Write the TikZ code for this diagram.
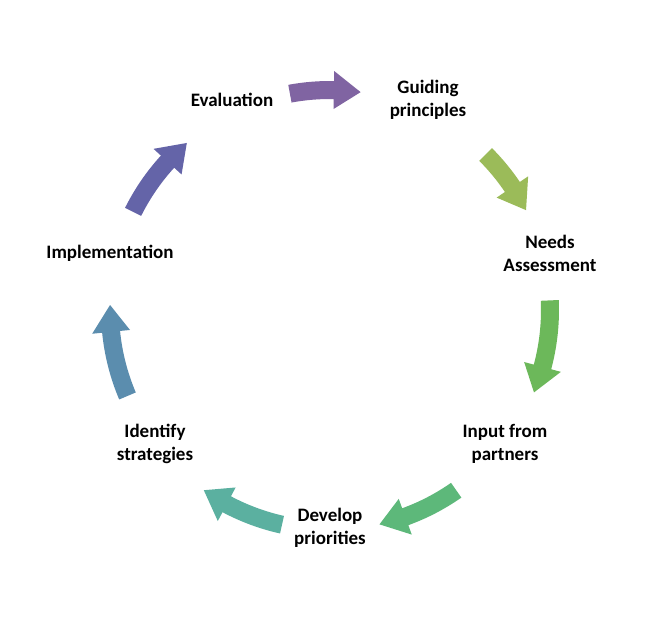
\documentclass[tikz,border=0pt]{standalone}
\usepackage{fontspec}
\setmainfont{Carlito}
\newcommand\cycarrow[3]{%
\pgfmathsetmacro\hs{(#2>#1)?-7:7}\pgfmathsetmacro\hb{#2+\hs}%
\fill[#3] (#1:211) arc[start angle=#1,end angle=\hb,radius=211] -- (\hb:201) -- (#2:220) -- (\hb:239) -- (\hb:229) arc[start angle=\hb,end angle=#1,radius=229] -- cycle;}
\begin{document}
\begin{tikzpicture}[x=1pt,y=1pt,lab/.style={font=\bfseries\fontsize{19}{23}\selectfont,align=center}]
\fill[white] (-330,-319) rectangle (323,310);
\useasboundingbox (-330,-319) rectangle (323,310);
\definecolor{c1}{HTML}{8064A2}\definecolor{c2}{HTML}{9BBB59}\definecolor{c3}{HTML}{6CB85A}
\definecolor{c4}{HTML}{5DB87A}\definecolor{c5}{HTML}{5BB0A0}\definecolor{c6}{HTML}{5B8DAE}\definecolor{c7}{HTML}{6464A8}
\cycarrow{100.5}{82}{c1}
\cycarrow{45}{27}{c2}
\cycarrow{2.5}{-22}{c3}
\cycarrow{-55}{-77}{c4}
\cycarrow{-102.6}{-125}{c5}
\cycarrow{-157}{-181.3}{c6}
\cycarrow{153.5}{130.6}{c7}
\node[lab] (ev) at (-98,210) {Evaluation};
\node[lab] (gp) at (98,210) {Guiding\\principles};
\node[lab] (na) at (220,57) {Needs\\Assessment};
\node[lab] (ip) at (175,-134) {Input from\\partners};
\node[lab] (dp) at (0,-218) {Develop\\priorities};
\node[lab] (is) at (-175,-134) {Identify\\strategies};
\node[lab] (im) at (-220,57) {Implementation};
\end{tikzpicture}
\end{document}
